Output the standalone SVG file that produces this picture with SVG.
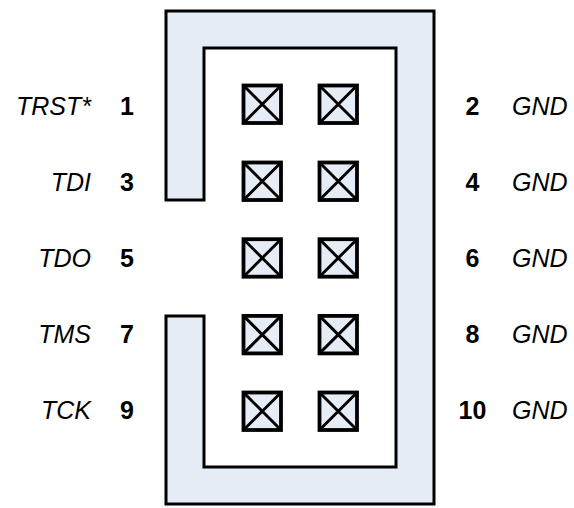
<svg xmlns="http://www.w3.org/2000/svg" width="574" height="508" viewBox="0 0 574 508">
<style>
.body{fill:#E6ECF6;stroke:#000;stroke-width:3;stroke-linejoin:miter}
.name{font-family:"Liberation Sans",Arial,sans-serif;font-style:italic;font-size:25px;fill:#000}
.num{font-family:"Liberation Sans",Arial,sans-serif;font-weight:bold;font-size:25px;fill:#000;text-anchor:middle}
</style>
<defs>
<g id="p">
<rect x="0" y="0" width="37.5" height="37.5" fill="#E6ECF6" stroke="#000" stroke-width="3.8"/>
<path d="M0,0 L37.5,37.5 M37.5,0 L0,37.5" fill="none" stroke="#000" stroke-width="2.9"/>
</g>
</defs>
<g id="header">
<path class="body" d="M166,11 H434 V504 H166 V316 H204 V467 H396 V48 H204 V200 H166 Z"/>
</g>
<g id="pins">
<g id="pin1"><use href="#p" x="243.5" y="85.5"/></g>
<g id="pin2"><use href="#p" x="319.5" y="85.5"/></g>
<g id="pin3"><use href="#p" x="243.5" y="162.5"/></g>
<g id="pin4"><use href="#p" x="319.5" y="162.5"/></g>
<g id="pin5"><use href="#p" x="243.5" y="239.2"/></g>
<g id="pin6"><use href="#p" x="319.5" y="239.2"/></g>
<g id="pin7"><use href="#p" x="243.5" y="315.9"/></g>
<g id="pin8"><use href="#p" x="319.5" y="315.9"/></g>
<g id="pin9"><use href="#p" x="243.5" y="392.5"/></g>
<g id="pin10"><use href="#p" x="319.5" y="392.5"/></g>
</g>
<g id="labels-left">
<text class="name" x="91" y="114.5" text-anchor="end">TRST*</text>
<text class="num" x="127" y="114.5">1</text>
<text class="name" x="91" y="191" text-anchor="end">TDI</text>
<text class="num" x="127" y="191">3</text>
<text class="name" x="91" y="266.5" text-anchor="end">TDO</text>
<text class="num" x="127" y="266.5">5</text>
<text class="name" x="91" y="342.5" text-anchor="end">TMS</text>
<text class="num" x="127" y="342.5">7</text>
<text class="name" x="91" y="418.5" text-anchor="end">TCK</text>
<text class="num" x="127" y="418.5">9</text>
</g>
<g id="labels-right">
<text class="num" x="472.5" y="114.5">2</text>
<text class="name" x="512" y="114.5">GND</text>
<text class="num" x="472.5" y="191">4</text>
<text class="name" x="512" y="191">GND</text>
<text class="num" x="472.5" y="266.5">6</text>
<text class="name" x="512" y="266.5">GND</text>
<text class="num" x="472.5" y="342.5">8</text>
<text class="name" x="512" y="342.5">GND</text>
<text class="num" x="472.5" y="418.5">10</text>
<text class="name" x="512" y="418.5">GND</text>
</g>
</svg>
